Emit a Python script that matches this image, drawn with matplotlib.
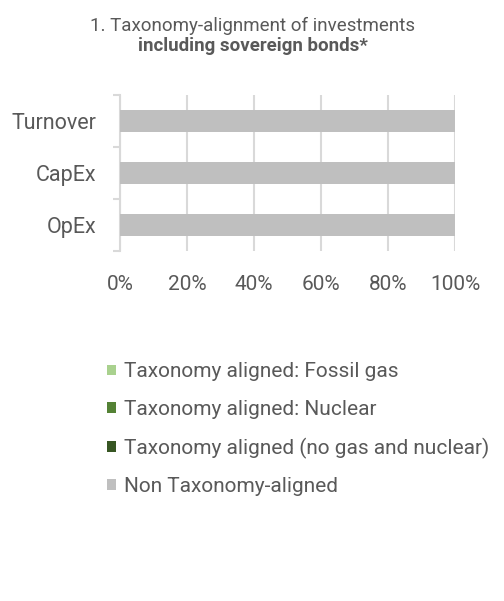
import numpy as np
import matplotlib.pyplot as plt
from matplotlib.ticker import FixedLocator

plt.rcParams['font.family'] = ['Roboto', 'DejaVu Sans']

# data
categories = ['Turnover', 'CapEx', 'OpEx']
series_names = ['Taxonomy aligned: Fossil gas',
                'Taxonomy aligned: Nuclear',
                'Taxonomy aligned (no gas and nuclear)',
                'Non Taxonomy-aligned']
fossil_gas = [0.0, 0.0, 0.0]
nuclear = [0.0, 0.0, 0.0]
aligned_other = [0.0, 0.0, 0.0]
non_aligned = [100.0, 100.0, 100.0]
x_ticks = [0, 20, 40, 60, 80, 100]

colors = ['#a9d18e', '#548235', '#375623', '#bfbfbf']
text_col = '#595959'
grid_col = '#d9d9d9'

W, H = 504, 601
fig = plt.figure(figsize=(W / 100, H / 100), dpi=100)
ax = fig.add_axes([120 / W, 1 - 251 / H, 335 / W, 156 / H])

ypos = np.arange(len(categories))
left = np.zeros(len(categories))
handles = []
for name, vals, c in zip(series_names, [fossil_gas, nuclear, aligned_other, non_aligned], colors):
    b = ax.barh(ypos, vals, left=left, height=0.42, color=c, label=name, zorder=3)
    handles.append(b)
    left = left + np.array(vals)

ax.set_xlim(0, 100)
ax.set_ylim(len(categories) - 0.5, -0.5)

# x axis
ax.set_xticks(x_ticks)
ax.set_xticklabels(['{}%'.format(t) for t in x_ticks])
ax.tick_params(axis='x', length=0, pad=17, labelsize=15, labelcolor=text_col)
ax.grid(axis='x', color=grid_col, lw=1.5, zorder=0)

# y axis: ticks at the boundaries, labels in the middle
ax.yaxis.set_major_locator(FixedLocator(np.arange(-0.5, len(categories), 1.0)))
ax.yaxis.set_minor_locator(FixedLocator(ypos))
ax.set_yticklabels([], minor=False)
ax.set_yticklabels(categories, minor=True)
ax.tick_params(axis='y', which='major', length=5, color=grid_col, width=1.5)
ax.tick_params(axis='y', which='minor', length=0, pad=17, labelsize=15.5, labelcolor=text_col)

for s in ['top', 'right', 'bottom']:
    ax.spines[s].set_visible(False)
ax.spines['left'].set_color(grid_col)
ax.spines['left'].set_linewidth(1.5)

# title
fig.text(253 / W, 1 - 31 / H, '1. Taxonomy-alignment of investments',
         ha='center', va='baseline', fontsize=13.5, color=text_col)
fig.text(253 / W, 1 - 51 / H, 'including sovereign bonds*',
         ha='center', va='baseline', fontsize=13.5, color=text_col, fontweight='bold')

# legend
fig.legend(handles=handles, labels=series_names, loc='upper left',
           bbox_to_anchor=(99 / W, 1 - 354 / H), frameon=False,
           fontsize=15, labelcolor=text_col, handlelength=0.43, handleheight=0.4,
           handletextpad=0.38, labelspacing=0.89, borderaxespad=0)

fig.savefig('out.png', dpi=100)
